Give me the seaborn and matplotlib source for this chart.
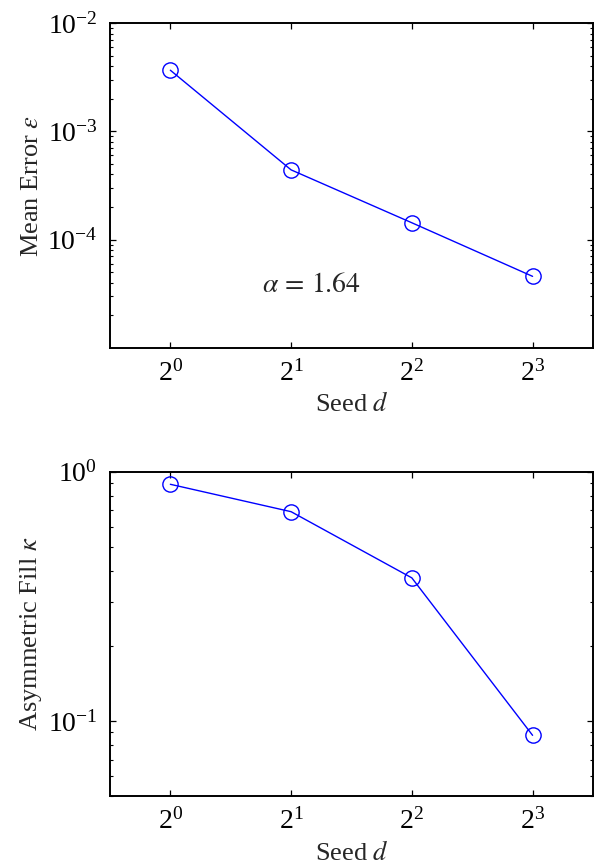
import numpy as np
import pandas as pd
import seaborn as sns
import matplotlib
matplotlib.use("Agg")
import matplotlib.pyplot as plt
from matplotlib.ticker import FixedLocator, LogLocator, NullLocator, NullFormatter

# values
seeds = [1, 2, 4, 8]
mean_error = [3.68e-3, 4.41e-4, 1.43e-4, 4.57e-5]
asym_fill = [0.890, 0.691, 0.375, 0.0876]
alpha_text = r"$\alpha\,=\,1.64$"

sns.set_style("ticks")
plt.rcParams["font.family"] = ["Liberation Serif", "DejaVu Serif"]
plt.rcParams["mathtext.fontset"] = "stix"
plt.rcParams["font.size"] = 19
plt.rcParams["axes.linewidth"] = 1.4
plt.rcParams["xtick.direction"] = "in"
plt.rcParams["ytick.direction"] = "in"
plt.rcParams["xtick.top"] = True
plt.rcParams["ytick.right"] = True

df_err = pd.DataFrame({"seed": seeds, "val": mean_error})
df_fill = pd.DataFrame({"seed": seeds, "val": asym_fill})

fig = plt.figure(figsize=(5.99, 8.68), dpi=100)
ax1 = fig.add_axes([0.1836, 0.5994, 0.8063, 0.3738])
ax2 = fig.add_axes([0.1836, 0.0829, 0.8063, 0.3737])


def style_axis(ax, ylim, yticks, ylabel):
    ax.set_xscale("log", base=2)
    ax.set_yscale("log")
    ax.set_xlim(2 ** -0.5, 2 ** 3.5)
    ax.set_ylim(*ylim)
    ax.xaxis.set_major_locator(FixedLocator(seeds))
    ax.xaxis.set_minor_locator(NullLocator())
    ax.yaxis.set_major_locator(FixedLocator(yticks))
    ax.yaxis.set_minor_locator(LogLocator(base=10, subs=np.arange(2, 10)))
    ax.yaxis.set_minor_formatter(NullFormatter())
    ax.tick_params(which="major", length=4.5, width=0.9, colors="black", labelsize=20)
    ax.tick_params(which="minor", length=2.5, width=0.8, colors="black")
    ax.tick_params(axis="x", pad=9)
    ax.tick_params(axis="y", pad=9)
    ax.set_xlabel(r"Seed $d$", fontsize=19, labelpad=4)
    ax.set_ylabel(ylabel, fontsize=19, labelpad=3)
    for s in ax.spines.values():
        s.set_color("black")


for ax, df in [(ax1, df_err), (ax2, df_fill)]:
    sns.lineplot(data=df, x="seed", y="val", ax=ax, color="blue", linewidth=1.0,
                 marker="o", markersize=11, markerfacecolor="none",
                 markeredgecolor="blue", markeredgewidth=1.0)

style_axis(ax1, (1e-5, 1e-2), [1e-4, 1e-3, 1e-2], r"Mean Error $\varepsilon$")
style_axis(ax2, (0.05, 1.0), [0.1, 1.0], r"Asymmetric Fill $\kappa$")

ax1.text(0.417, 0.193, alpha_text, transform=ax1.transAxes, ha="center", va="center", fontsize=20)

fig.savefig("out.png", dpi=100)
